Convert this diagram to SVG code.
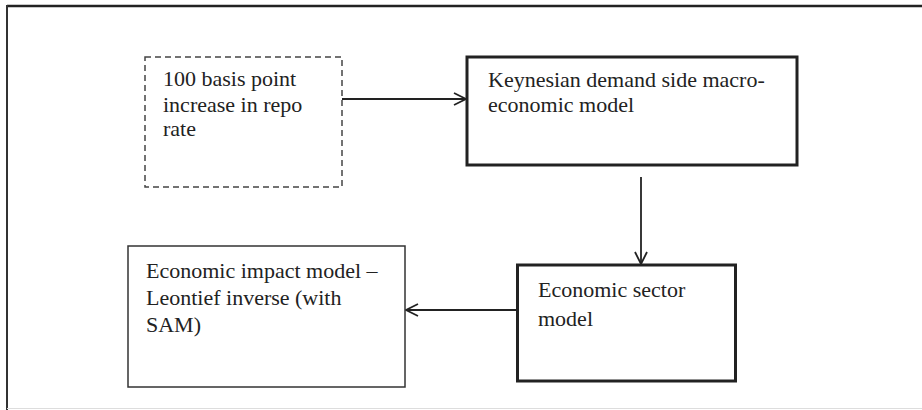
<svg xmlns="http://www.w3.org/2000/svg" width="922" height="410" viewBox="0 0 922 410">
<style>
text{font-family:"Liberation Serif","Times New Roman",serif;font-size:22px;fill:#222}
.thick{fill:#fff;stroke:#222;stroke-width:3}
.thin{fill:#fff;stroke:#333;stroke-width:1.5}
.dash{fill:#fff;stroke:#444;stroke-width:1.5;stroke-dasharray:6,4}
.conn{stroke:#222;stroke-width:1.8;fill:none}
</style>
<defs>
<marker id="arr" viewBox="0 0 14 14" refX="13" refY="7" markerWidth="14" markerHeight="14" markerUnits="userSpaceOnUse" orient="auto">
<path d="M1,1 L13,7 L1,13" fill="none" stroke="#222" stroke-width="1.8"/>
</marker>
</defs>
<rect width="922" height="410" fill="#fff"/>
<g id="frame">
<line x1="7" y1="6" x2="922" y2="6" stroke="#222" stroke-width="2.5"/>
<line x1="7" y1="5" x2="7" y2="410" stroke="#333" stroke-width="2"/>
<line x1="7" y1="408.5" x2="922" y2="408.5" stroke="#ddd" stroke-width="1"/>
</g>
<g id="connectors">
<line class="conn" x1="342" y1="99" x2="466" y2="99" marker-end="url(#arr)"/>
<line class="conn" x1="641" y1="177" x2="641" y2="264" marker-end="url(#arr)"/>
<line class="conn" x1="517" y1="310" x2="406" y2="310" marker-end="url(#arr)"/>
</g>
<g id="repo">
<rect class="dash" x="145" y="57" width="197" height="130"/>
<text x="163" y="86">100 basis point</text>
<text x="163" y="112">increase in repo</text>
<text x="163" y="136">rate</text>
</g>
<g id="keynesian">
<rect class="thick" x="467" y="57" width="330" height="108"/>
<text x="488" y="87">Keynesian demand side macro-</text>
<text x="488" y="112">economic model</text>
</g>
<g id="sector">
<rect class="thick" x="517.5" y="265" width="218" height="116"/>
<text x="538" y="297">Economic sector</text>
<text x="538" y="326">model</text>
</g>
<g id="impact">
<rect class="thin" x="128" y="246" width="277" height="141"/>
<text x="146" y="278">Economic impact model –</text>
<text x="146" y="305">Leontief inverse (with</text>
<text x="146" y="332">SAM)</text>
</g>
</svg>
